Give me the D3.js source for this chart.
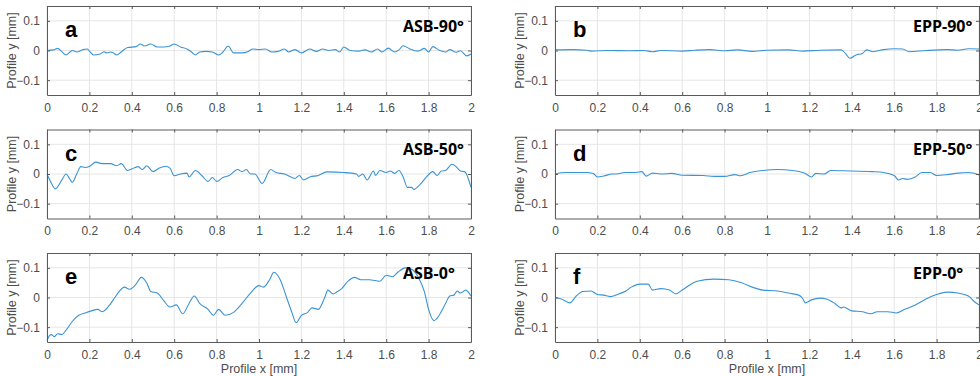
<!DOCTYPE html>
<html><head><meta charset="utf-8">
<script src="https://cdn.jsdelivr.net/npm/d3@7"></script>
<style>body{margin:0;background:#fff}svg{display:block}</style>
</head><body>
<script>
// ---- data (x in mm, y in mm) ----
const xTicks = [0,0.2,0.4,0.6,0.8,1,1.2,1.4,1.6,1.8,2];
const yTicks = [-0.1,0,0.1];
const panelLetters = ["a","b","c","d","e","f"];
const panelTitles = ["ASB-90°","EPP-90°","ASB-50°","EPP-50°","ASB-0°","EPP-0°"];

const asb90 = [[0,0],[0.03,0.002],[0.05,0.007],[0.07,-0.004],[0.09,-0.015],[0.11,-0.004],[0.12,0],[0.14,-0.005],[0.17,0.003],[0.19,0.005],[0.2,-0.002],[0.22,-0.015],[0.25,-0.012],[0.27,-0.004],[0.28,-0.008],[0.3,-0.005],[0.31,-0.007],[0.33,-0.015],[0.35,-0.005],[0.38,0.01],[0.42,0.013],[0.44,0.022],[0.46,0.015],[0.49,0.022],[0.52,0.012],[0.55,0.012],[0.58,0.015],[0.6,0.022],[0.63,0.012],[0.66,0.005],[0.68,-0.004],[0.7,-0.015],[0.72,-0.005],[0.75,-0.003],[0.78,-0.005],[0.81,-0.015],[0.83,-0.005],[0.855,0.015],[0.88,-0.008],[0.92,-0.008],[0.95,-0.003],[0.97,0.005],[1.0,0.003],[1.03,0.005],[1.06,-0.005],[1.09,-0.003],[1.12,0.005],[1.14,-0.005],[1.17,0.003],[1.2,-0.008],[1.24,0.005],[1.27,-0.003],[1.3,0.005],[1.33,0],[1.36,0.003],[1.38,-0.005],[1.4,0.012],[1.43,0],[1.47,-0.002],[1.5,0.002],[1.53,-0.005],[1.56,0.005],[1.58,-0.005],[1.61,0.008],[1.64,-0.005],[1.66,0.002],[1.68,0.016],[1.71,0.006],[1.75,-0.002],[1.78,0.007],[1.8,-0.005],[1.82,0.013],[1.85,0.001],[1.88,-0.005],[1.9,0.003],[1.93,-0.006],[1.95,-0.001],[1.98,-0.018],[2.0,-0.012]];

const epp90 = [[0,0.002],[0.08,0.003],[0.15,0.001],[0.17,-0.002],[0.25,0],[0.35,-0.001],[0.42,0],[0.46,-0.004],[0.5,0],[0.6,-0.002],[0.66,0.001],[0.73,0.003],[0.8,-0.001],[0.86,0.002],[0.93,-0.003],[1.0,0.001],[1.1,0.002],[1.17,-0.002],[1.25,0.001],[1.35,0.002],[1.37,-0.01],[1.39,-0.026],[1.42,-0.015],[1.45,-0.01],[1.47,0.002],[1.5,-0.004],[1.55,0.003],[1.6,0.006],[1.64,0.005],[1.67,-0.004],[1.75,0],[1.85,0.003],[1.9,0.001],[1.95,0.006],[2.0,0.005]];

const asb50 = [[0,0],[0.02,-0.03],[0.04,-0.05],[0.07,-0.02],[0.09,0],[0.1,-0.008],[0.12,-0.028],[0.14,0],[0.16,0.025],[0.18,0.022],[0.2,0.025],[0.23,0.04],[0.26,0.035],[0.3,0.035],[0.33,0.028],[0.35,0.035],[0.38,0.012],[0.41,0.02],[0.43,0.025],[0.45,0.015],[0.47,0.028],[0.5,0.008],[0.53,0.02],[0.56,0.026],[0.58,0.02],[0.6,-0.006],[0.63,0],[0.66,0.003],[0.67,-0.01],[0.7,0.012],[0.73,-0.005],[0.76,-0.025],[0.78,-0.012],[0.8,-0.025],[0.83,-0.012],[0.86,-0.005],[0.9,0.015],[0.92,0.008],[0.94,0.015],[0.96,0],[0.98,0],[1.015,-0.032],[1.055,0.015],[1.08,0.005],[1.12,0],[1.17,-0.015],[1.19,-0.005],[1.21,-0.02],[1.24,-0.01],[1.28,-0.005],[1.32,0.007],[1.4,0.005],[1.46,0],[1.47,-0.008],[1.49,0],[1.51,-0.02],[1.54,0.01],[1.55,-0.005],[1.57,0.012],[1.6,0.005],[1.62,0.01],[1.64,0.002],[1.66,0.012],[1.68,-0.01],[1.7,-0.045],[1.72,-0.045],[1.73,-0.052],[1.76,-0.035],[1.79,-0.01],[1.82,0.008],[1.84,-0.005],[1.86,0.01],[1.88,0.012],[1.91,0.033],[1.93,0.025],[1.95,0.01],[1.97,0.008],[2.0,-0.045]];

const epp50 = [[0,0],[0.05,0.005],[0.15,0.005],[0.18,0.002],[0.2,-0.01],[0.23,-0.007],[0.27,0],[0.29,0],[0.33,0.005],[0.38,0.005],[0.41,0.008],[0.43,-0.007],[0.46,0.003],[0.5,0],[0.55,0.002],[0.6,-0.004],[0.7,-0.005],[0.75,-0.008],[0.8,-0.008],[0.85,-0.002],[0.875,-0.006],[0.92,0.005],[0.98,0.012],[1.05,0.015],[1.12,0.012],[1.18,0.002],[1.21,-0.01],[1.23,0.002],[1.27,0],[1.3,0.012],[1.4,0.01],[1.5,0.008],[1.55,0.005],[1.6,-0.005],[1.62,-0.02],[1.64,-0.015],[1.66,-0.018],[1.7,-0.01],[1.73,0.005],[1.77,0.005],[1.8,-0.005],[1.85,-0.002],[1.9,0.003],[1.95,0.005],[2.0,-0.003]];

const asb0 = [[0,-0.145],[0.01,-0.13],[0.02,-0.125],[0.035,-0.132],[0.05,-0.122],[0.07,-0.125],[0.09,-0.11],[0.12,-0.08],[0.15,-0.06],[0.18,-0.052],[0.21,-0.045],[0.24,-0.04],[0.26,-0.048],[0.29,-0.03],[0.32,0],[0.34,0.02],[0.365,0.035],[0.39,0.028],[0.42,0.045],[0.445,0.068],[0.47,0.05],[0.49,0.02],[0.52,0.015],[0.55,-0.01],[0.58,-0.032],[0.61,-0.025],[0.64,-0.055],[0.67,-0.02],[0.695,0.005],[0.72,-0.02],[0.76,-0.04],[0.785,-0.06],[0.81,-0.04],[0.84,-0.06],[0.88,-0.05],[0.92,-0.02],[0.96,0.015],[1.0,0.04],[1.02,0.035],[1.05,0.06],[1.07,0.085],[1.1,0.06],[1.13,0],[1.155,-0.05],[1.175,-0.085],[1.2,-0.06],[1.23,-0.05],[1.25,-0.035],[1.28,-0.04],[1.31,0],[1.325,0.025],[1.35,0.012],[1.37,0.02],[1.39,0.03],[1.42,0.055],[1.45,0.068],[1.48,0.06],[1.52,0.06],[1.57,0.055],[1.6,0.075],[1.63,0.07],[1.655,0.085],[1.69,0.1],[1.72,0.095],[1.75,0.07],[1.78,0.02],[1.8,-0.04],[1.825,-0.078],[1.85,-0.06],[1.88,-0.02],[1.9,0.005],[1.92,0.008],[1.935,0.022],[1.95,0.015],[1.975,0.025],[2.0,0.005]];

const epp0 = [[0,0],[0.03,-0.005],[0.07,-0.018],[0.1,0.005],[0.13,0.02],[0.17,0.022],[0.2,0.01],[0.23,0.008],[0.26,0.003],[0.3,0.012],[0.33,0.02],[0.36,0.035],[0.4,0.045],[0.44,0.045],[0.46,0.025],[0.5,0.03],[0.54,0.025],[0.57,0.012],[0.6,0.025],[0.67,0.055],[0.75,0.062],[0.82,0.06],[0.88,0.05],[0.93,0.035],[0.98,0.025],[1.05,0.022],[1.1,0.015],[1.15,0.008],[1.17,-0.005],[1.18,-0.018],[1.21,-0.008],[1.25,-0.002],[1.28,-0.005],[1.32,-0.02],[1.35,-0.035],[1.36,-0.032],[1.4,-0.045],[1.45,-0.048],[1.49,-0.055],[1.52,-0.048],[1.57,-0.048],[1.61,-0.052],[1.65,-0.04],[1.7,-0.025],[1.75,-0.005],[1.8,0.01],[1.85,0.018],[1.9,0.015],[1.95,0.005],[1.98,-0.015],[2.0,-0.025]];

const seriesList = [asb90, epp90, asb50, epp50, asb0, epp0];

// ---- layout ----
const W = 980, H = 376;
const colLeft = [47, 555], plotW = 424;
const rowTop = [6, 129.5, 253], plotH = 89;

const svg = d3.select("body").append("svg").attr("width", W).attr("height", H);
const font = "'Liberation Sans', Arial, sans-serif";
const textCol = "#4d4d4d";

seriesList.forEach((data, i) => {
  const col = i % 2, row = Math.floor(i / 2);
  const x0 = colLeft[col], y0 = rowTop[row];
  const x = d3.scaleLinear().domain([0, 2]).range([x0, x0 + plotW]);
  const y = d3.scaleLinear().domain([-0.15, 0.15]).range([y0 + plotH, y0]);
  const g = svg.append("g");

  // grid
  g.selectAll(".gx").data(xTicks).join("line")
    .attr("x1", d => x(d)).attr("x2", d => x(d)).attr("y1", y0).attr("y2", y0 + plotH)
    .attr("stroke", "#e6e6e6").attr("stroke-width", 1);
  g.selectAll(".gy").data(yTicks).join("line")
    .attr("y1", d => y(d)).attr("y2", d => y(d)).attr("x1", x0).attr("x2", x0 + plotW)
    .attr("stroke", "#e6e6e6").attr("stroke-width", 1);

  // line
  g.append("path").datum(data)
    .attr("d", d3.line().x(d => x(d[0])).y(d => y(d[1])).curve(d3.curveMonotoneX))
    .attr("fill", "none").attr("stroke", "#3a93d4").attr("stroke-width", 1.1);

  // axes (inward ticks, box)
  const axB = g.append("g").attr("transform", `translate(0,${y0 + plotH})`)
    .call(d3.axisBottom(x).tickValues(xTicks).tickSizeInner(-3).tickSizeOuter(0).tickPadding(8).tickFormat(d3.format("~g")));
  const axT = g.append("g").attr("transform", `translate(0,${y0})`)
    .call(d3.axisTop(x).tickValues(xTicks).tickSizeInner(-3).tickSizeOuter(0).tickFormat(""));
  const axL = g.append("g").attr("transform", `translate(${x0},0)`)
    .call(d3.axisLeft(y).tickValues(yTicks).tickSizeInner(-3).tickSizeOuter(0).tickPadding(7).tickFormat(d3.format("~g")));
  const axR = g.append("g").attr("transform", `translate(${x0 + plotW},0)`)
    .call(d3.axisRight(y).tickValues(yTicks).tickSizeInner(-3).tickSizeOuter(0).tickFormat(""));
  [axB, axT, axL, axR].forEach(a => {
    a.select(".domain").attr("stroke", "#5a5a5a");
    a.selectAll(".tick line").attr("stroke", "#5a5a5a");
    a.selectAll("text").attr("fill", textCol).style("font-family", font).style("font-size", "12px");
  });
  axB.selectAll("text").attr("dy", "0.71em");

  // y label
  g.append("text")
    .attr("transform", `translate(${x0 - 31},${y0 + plotH / 2}) rotate(-90)`)
    .attr("text-anchor", "middle").attr("fill", textCol)
    .style("font-family", font).style("font-size", "12.5px")
    .text("Profile y [mm]");

  // panel letter
  g.append("text").attr("x", x0 + 18).attr("y", y0 + 31)
    .style("font-family", "'Liberation Sans', Arial, sans-serif").style("font-weight", "bold").style("font-size", "22px")
    .attr("fill", "#000").text(panelLetters[i]);

  // title
  g.append("text").attr("x", x0 + (col === 0 ? 356 : 358)).attr("y", y0 + 25.5)
    .style("font-family", "'Open Sans', sans-serif").style("font-weight", "bold").style("font-size", "16px")
    .attr("fill", "#000").text(panelTitles[i]);

  if (row === 2) {
    g.append("text").attr("x", x0 + plotW / 2).attr("y", y0 + plotH + 31)
      .attr("text-anchor", "middle").attr("fill", textCol)
      .style("font-family", font).style("font-size", "12.5px")
      .text("Profile x [mm]");
  }
});
</script>
</body></html>
